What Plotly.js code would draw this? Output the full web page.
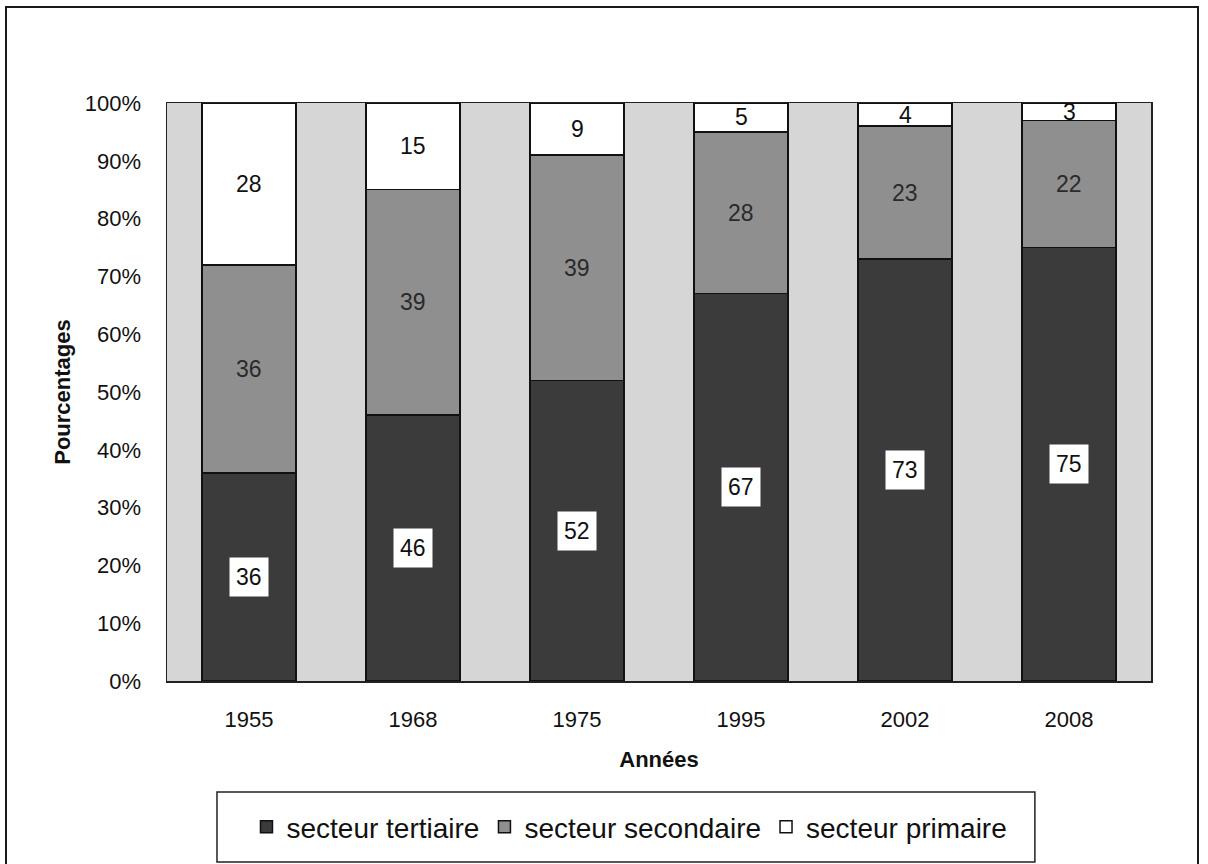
<!DOCTYPE html>
<html>
<head>
<meta charset="utf-8">
<script src="https://cdn.plot.ly/plotly-3.0.1.min.js"></script>
<style>
  html, body { margin: 0; padding: 0; background: #ffffff; overflow: hidden; }
  #frame { position: absolute; left: 5px; top: 6px; width: 1194px; height: 880px; border: 2px solid #1a1a1a; box-sizing: border-box; pointer-events: none; z-index: 10; }
  #chart { position: absolute; left: 0; top: 0; width: 1208px; height: 864px; }
</style>
</head>
<body>
<div id="chart"></div>
<div id="frame"></div>
<script>
const years = ['1955', '1968', '1975', '1995', '2002', '2008'];
const tertiaire = [36, 46, 52, 67, 73, 75];
const secondaire = [36, 39, 39, 28, 23, 22];
const primaire = [28, 15, 9, 5, 4, 3];
const seriesNames = ['secteur tertiaire', 'secteur secondaire', 'secteur primaire'];

const barLine = { color: '#111111', width: 1.5 };
const traces = [
  { type: 'bar', name: seriesNames[0], x: years, y: tertiaire, marker: { color: '#3b3b3b', line: barLine }, hoverinfo: 'skip' },
  { type: 'bar', name: seriesNames[1], x: years, y: secondaire, marker: { color: '#8f8f8f', line: barLine }, hoverinfo: 'skip' },
  { type: 'bar', name: seriesNames[2], x: years, y: primaire, marker: { color: '#ffffff', line: barLine }, hoverinfo: 'skip' }
];

const FONT = 'Liberation Sans, Arial, sans-serif';
const annotations = [];
years.forEach((yr, i) => {
  const t = tertiaire[i], s = secondaire[i], p = primaire[i];
  annotations.push({ x: i, y: t / 2, xref: 'x', yref: 'y', text: String(t), showarrow: false,
    font: { family: FONT, size: 23, color: '#111' },
    bgcolor: '#ffffff', borderpad: 6 });
  annotations.push({ x: i, y: t + s / 2, xref: 'x', yref: 'y', text: String(s), showarrow: false,
    font: { family: FONT, size: 23, color: '#2a2a2a' } });
  annotations.push({ x: i, y: t + s + p / 2, xref: 'x', yref: 'y', text: String(p), showarrow: false,
    font: { family: FONT, size: 23, color: '#111' } });
});

const layout = {
  width: 1208, height: 864,
  margin: { l: 167, r: 57, t: 103, b: 183 },
  paper_bgcolor: '#ffffff',
  plot_bgcolor: '#d6d6d6',
  barmode: 'stack',
  bargap: 0.425,
  font: { family: FONT, color: '#111' },
  xaxis: {
    type: 'category', range: [-0.5, 5.5],
    showline: true, mirror: true, linecolor: '#222', linewidth: 1.5, showgrid: false,
    ticks: 'outside', ticklen: 18, tickcolor: 'rgba(0,0,0,0)', tickfont: { size: 22, color: '#111' },
    title: { text: 'Années', font: { size: 22, color: '#111', weight: 'bold' }, standoff: 20 }
  },
  yaxis: {
    range: [0, 100], showgrid: false, zeroline: false,
    showline: true, mirror: true, linecolor: '#222', linewidth: 1.5,
    tickvals: [0, 10, 20, 30, 40, 50, 60, 70, 80, 90, 100],
    ticktext: ['0%', '10%', '20%', '30%', '40%', '50%', '60%', '70%', '80%', '90%', '100%'],
    ticks: 'outside', ticklen: 20, tickcolor: 'rgba(0,0,0,0)', tickfont: { size: 22, color: '#111' },
    title: { text: 'Pourcentages', font: { size: 22, color: '#111', weight: 'bold' }, standoff: 8 }
  },
  showlegend: true,
  legend: {
    orientation: 'h', x: 0.47, xanchor: 'center', y: -0.2526, yanchor: 'middle',
    font: { size: 28, color: '#111' }, bgcolor: 'rgba(0,0,0,0)',
    traceorder: 'normal'
  },
  shapes: [
    { type: 'rect', xref: 'paper', yref: 'paper', x0: 0.0508, x1: 0.882, y0: -0.313, y1: -0.192,
      line: { color: '#222', width: 1.5 }, fillcolor: 'rgba(0,0,0,0)' }
  ],
  annotations: annotations
};

Plotly.newPlot('chart', traces, layout, { displayModeBar: false, staticPlot: true });
</script>
</body>
</html>
